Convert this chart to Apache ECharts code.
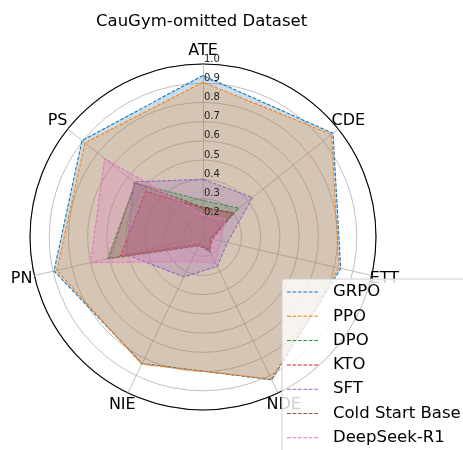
<!DOCTYPE html>
<html>
<head>
<meta charset="utf-8">
<script src="https://cdn.jsdelivr.net/npm/echarts@6/dist/echarts.min.js"></script>
<style>
  html, body { margin: 0; background: #fff; }
  #chart { width: 463px; height: 450px; }
</style>
</head>
<body>
<div id="chart"></div>
<script>
// axes in clockwise order, starting at the top
const axes = ['ATE', 'CDE', 'ETT', 'NDE', 'NIE', 'PN', 'PS'];
const tickMin = 0.1;
const tickMax = 1.0;
const tickStep = 0.1;

const names = ['GRPO', 'PPO', 'DPO', 'KTO', 'SFT', 'Cold Start Base', 'DeepSeek-R1'];
const colors = ['#1f77b4', '#ff7f0e', '#2ca02c', '#d62728', '#9467bd', '#8c564b', '#e377c2'];

const grpo = [0.94, 0.965, 0.835, 0.925, 0.83, 0.895, 0.905];
const ppo = [0.905, 0.955, 0.825, 0.92, 0.835, 0.88, 0.885];
const dpo = [0.29, 0.34, 0.14, 0.19, 0.15, 0.61, 0.55];
const kto = [0.25, 0.30, 0.15, 0.18, 0.14, 0.54, 0.48];
const sft = [0.40, 0.43, 0.23, 0.27, 0.33, 0.51, 0.56];
const coldStart = [0.255, 0.30, 0.14, 0.17, 0.15, 0.60, 0.55];
const deepseek = [0.215, 0.25, 0.19, 0.25, 0.24, 0.70, 0.755];

const values = [grpo, ppo, dpo, kto, sft, coldStart, deepseek];

// echarts lays indicators out counter-clockwise, so flip the order after ATE
const order = [0, 6, 5, 4, 3, 2, 1];
const reorder = arr => order.map(i => arr[i]);

const cx = 203, cy = 237, R = 173;
const font = 'DejaVu Sans';

// dashed line as legend icon
let dashPath = 'path://';
for (let i = 0; i < 6; i++) {
  dashPath += 'M' + (i * 5.3) + ',0h3.7v1h-3.7z';
}

const chart = echarts.init(document.getElementById('chart'));

chart.setOption({
  animation: false,
  backgroundColor: '#fff',
  title: {
    text: 'CauGym-omitted Dataset',
    left: 96,
    top: 13,
    padding: 0,
    textStyle: { fontFamily: font, fontSize: 16.5, fontWeight: 'normal', color: '#000' }
  },
  legend: {
    orient: 'vertical',
    left: 282,
    top: 279,
    height: 220,
    padding: [4, 10, 6, 5],
    itemGap: 6.3,
    itemWidth: 31,
    itemHeight: 1.5,
    icon: dashPath,
    backgroundColor: 'rgba(255,255,255,0.8)',
    borderColor: '#d0d0d0',
    borderWidth: 1,
    borderRadius: 3,
    data: names,
    textStyle: {
      fontFamily: font, fontSize: 16.5, color: '#000',
      lineHeight: 18, padding: [0, 0, 0, 10]
    }
  },
  polar: { center: [cx, cy], radius: R },
  angleAxis: {
    type: 'value', min: 0, max: 360, startAngle: 90,
    axisLine: { show: true, lineStyle: { color: '#000', width: 1.1 } },
    axisTick: { show: false },
    axisLabel: { show: false },
    splitLine: { show: false }
  },
  radiusAxis: {
    type: 'value', min: tickMin, max: tickMax, interval: tickStep,
    z: 10,
    axisLine: { show: false },
    axisTick: { show: false },
    splitLine: { show: false },
    axisLabel: {
      margin: 0,
      align: 'left',
      verticalAlign: 'bottom',
      padding: [0, 0, 0, 1],
      fontFamily: font,
      fontSize: 10,
      color: '#222',
      formatter: v => (v < tickMin + 0.05 ? '' : v.toFixed(1))
    }
  },
  radar: {
    center: [cx, cy],
    radius: R,
    startAngle: 90,
    shape: 'circle',
    splitNumber: 9,
    nameGap: 13,
    indicator: reorder(axes).map(n => ({ name: n, min: tickMin, max: tickMax })),
    axisName: {
      color: '#000', fontFamily: font, fontSize: 16,
      align: 'center', verticalAlign: 'middle'
    },
    axisLine: { lineStyle: { color: '#b0b0b0', width: 0.8 } },
    splitLine: { lineStyle: { color: '#b0b0b0', width: 0.8 } },
    splitArea: { show: false }
  },
  series: names.map((name, i) => ({
    type: 'radar',
    name: name,
    symbol: 'none',
    z: 2 + i * 0.01,
    itemStyle: { color: colors[i] },
    lineStyle: { color: colors[i], width: 1.1, type: [3.7, 1.6] },
    areaStyle: { color: colors[i], opacity: 0.25 },
    data: [{ name: name, value: reorder(values[i]) }]
  }))
});
</script>
</body>
</html>
